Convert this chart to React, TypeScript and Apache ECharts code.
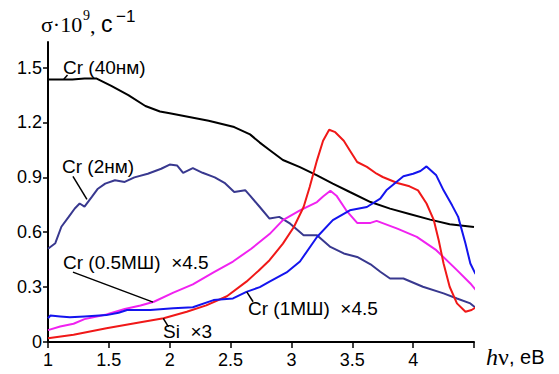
import React, { useEffect, useRef } from "react";
import * as echarts from "echarts";

// Cr (40нм)
const cr40nm: number[][] = [
  [1.0, 1.435], [1.2, 1.435], [1.3, 1.44], [1.4, 1.44], [1.52, 1.4], [1.66, 1.35],
  [1.8, 1.29], [1.92, 1.26], [2.0, 1.25], [2.16, 1.23], [2.32, 1.21], [2.53, 1.175],
  [2.66, 1.135], [2.74, 1.09], [2.82, 1.05], [2.93, 0.995], [3.07, 0.956], [3.21, 0.911],
  [3.34, 0.866], [3.48, 0.82], [3.65, 0.765], [3.81, 0.729], [3.97, 0.7], [4.14, 0.669],
  [4.3, 0.644], [4.5, 0.629],
];
// Cr (2нм)
const cr2nm: number[][] = [
  [1.0, 0.51], [1.06, 0.54], [1.11, 0.63], [1.17, 0.684], [1.22, 0.73], [1.26, 0.757],
  [1.3, 0.74], [1.36, 0.793], [1.41, 0.838], [1.47, 0.866], [1.55, 0.884], [1.63, 0.875],
  [1.71, 0.9], [1.82, 0.92], [1.93, 0.947], [2.0, 0.97], [2.06, 0.965], [2.11, 0.925],
  [2.19, 0.95], [2.27, 0.925], [2.37, 0.9], [2.45, 0.87], [2.53, 0.82], [2.62, 0.83],
  [2.66, 0.8], [2.74, 0.738], [2.82, 0.675], [2.9, 0.684], [2.99, 0.647], [3.1, 0.584],
  [3.21, 0.584], [3.32, 0.52], [3.43, 0.484], [3.54, 0.465], [3.65, 0.425], [3.73, 0.384],
  [3.81, 0.347], [3.92, 0.347], [4.08, 0.302], [4.25, 0.266], [4.36, 0.238], [4.47, 0.211],
  [4.52, 0.184],
];
// Cr (0.5МШ) ×4.5
const cr05ms: number[][] = [
  [1.0, 0.065], [1.1, 0.085], [1.21, 0.1], [1.3, 0.125], [1.48, 0.15], [1.63, 0.18],
  [1.76, 0.2], [1.87, 0.22], [2.03, 0.27], [2.19, 0.315], [2.36, 0.38], [2.52, 0.44],
  [2.67, 0.51], [2.82, 0.59], [2.93, 0.666], [3.07, 0.72], [3.21, 0.765], [3.26, 0.795],
  [3.32, 0.827], [3.37, 0.8], [3.45, 0.72], [3.54, 0.651], [3.65, 0.651], [3.7, 0.662],
  [3.87, 0.62], [4.03, 0.575], [4.19, 0.502], [4.36, 0.393], [4.47, 0.32], [4.55, 0.256],
];
// Cr (1МШ) ×4.5
const cr1ms: number[][] = [
  [1.0, 0.13], [1.02, 0.145], [1.1, 0.14], [1.18, 0.135], [1.3, 0.14], [1.48, 0.147],
  [1.58, 0.16], [1.65, 0.175], [1.84, 0.175], [2.03, 0.184], [2.19, 0.19], [2.36, 0.229],
  [2.52, 0.238], [2.63, 0.274], [2.74, 0.3], [2.82, 0.33], [2.96, 0.38], [3.07, 0.44],
  [3.21, 0.574], [3.34, 0.666], [3.48, 0.72], [3.62, 0.738], [3.73, 0.784], [3.78, 0.829],
  [3.92, 0.906], [4.0, 0.92], [4.06, 0.935], [4.11, 0.96], [4.19, 0.911], [4.25, 0.829],
  [4.32, 0.747], [4.37, 0.684], [4.43, 0.538], [4.47, 0.429], [4.51, 0.375], [4.55, 0.353],
];
// Si ×3
const si3: number[][] = [
  [1.0, 0.02], [1.21, 0.04], [1.48, 0.075], [1.76, 0.108], [1.95, 0.13], [2.14, 0.165],
  [2.3, 0.2], [2.47, 0.25], [2.63, 0.33], [2.73, 0.39], [2.82, 0.447], [2.93, 0.538],
  [3.02, 0.629], [3.1, 0.738], [3.15, 0.847], [3.21, 0.993], [3.26, 1.1], [3.31, 1.16],
  [3.36, 1.147], [3.43, 1.1], [3.48, 1.047], [3.54, 0.984], [3.62, 0.957], [3.7, 0.92],
  [3.75, 0.902], [3.87, 0.869], [3.97, 0.851], [4.04, 0.829], [4.11, 0.757], [4.17, 0.666],
  [4.21, 0.556], [4.25, 0.429], [4.3, 0.302], [4.36, 0.211], [4.43, 0.165], [4.48, 0.175],
  [4.54, 0.2],
];

const yTicks = [0, 0.3, 0.6, 0.9, 1.2, 1.5];
const xTicks = [1, 1.5, 2, 2.5, 3, 3.5, 4, 4.5];
const xLabels = [1, 1.5, 2, 2.5, 3, 3.5, 4];

const labelTexts = ["Cr (40нм)", "Cr (2нм)", "Cr (0.5МШ)  ×4.5", "Cr (1МШ)  ×4.5", "Si  ×3"];
const labelAnchors: number[][] = [[1.123, 1.5], [1.115, 0.96], [1.123, 0.436], [2.643, 0.185], [1.945, 0.06]];
const leaderStarts: number[][] = [[1.16, 1.46], [1.205, 0.906], [1.205, 0.382], [2.685, 0.22], [1.99, 0.083]];
const leaderEnds: number[][] = [[1.13, 1.437], [1.32, 0.78], [1.863, 0.218], [2.633, 0.274], [1.947, 0.129]];

const SANS = "'Liberation Sans', Arial, sans-serif";
const SERIF = "'Liberation Serif', 'Times New Roman', serif";

export default function App() {
  const ref = useRef<HTMLDivElement>(null);
  useEffect(() => {
    if (!ref.current) return;
    const chart = echarts.init(ref.current, undefined, { renderer: "svg" });
    const mk = (name: string, data: number[][], color: string) => ({
      name,
      type: "line",
      data,
      showSymbol: false,
      symbol: "none",
      clip: false,
      lineStyle: { color, width: 2 },
      itemStyle: { color },
    });
    chart.setOption({
      animation: false,
      backgroundColor: "#ffffff",
      grid: { left: 48, right: 85, top: 42, bottom: 32, containLabel: false, outerBoundsMode: "none" },
      xAxis: {
        type: "value",
        min: 1,
        max: 4.5,
        axisLine: { show: true, lineStyle: { color: "#000", width: 2 } },
        axisTick: { show: true, customValues: xTicks, length: 6, lineStyle: { color: "#000", width: 1.5 } },
        axisLabel: {
          customValues: xLabels,
          fontSize: 18,
          fontFamily: SANS,
          color: "#000",
          margin: 9,
          formatter: (v: number) => String(v),
        },
        splitLine: { show: false },
      },
      yAxis: {
        type: "value",
        min: 0,
        max: 1.64,
        axisLine: { show: true, lineStyle: { color: "#000", width: 2 } },
        axisTick: { show: true, customValues: yTicks, length: 5, lineStyle: { color: "#000", width: 1.5 } },
        axisLabel: {
          customValues: yTicks,
          fontSize: 18,
          fontFamily: SANS,
          color: "#000",
          margin: 6,
          formatter: (v: number) => String(v),
        },
        splitLine: { show: false },
      },
      series: [
        mk("Cr (40нм)", cr40nm, "#000000"),
        mk("Cr (2нм)", cr2nm, "#38388f"),
        mk("Cr (0.5МШ)", cr05ms, "#f022f0"),
        mk("Si", si3, "#f01818"),
        mk("Cr (1МШ)", cr1ms, "#1414ee"),
      ],
    });

    const px = (p: number[]) => chart.convertToPixel({ gridIndex: 0 }, p) as number[];
    const graphics: any[] = [];
    labelTexts.forEach((t, i) => {
      const a = px(labelAnchors[i]);
      const s = px(leaderStarts[i]);
      const e = px(leaderEnds[i]);
      graphics.push({
        type: "line",
        shape: { x1: s[0], y1: s[1], x2: e[0], y2: e[1] },
        style: { stroke: "#000", lineWidth: 1.5 },
        z: 10,
      });
      graphics.push({
        type: "text",
        x: a[0],
        y: a[1],
        style: { text: t, font: `19px ${SANS}`, fill: "#000", verticalAlign: "middle", align: "left" },
        z: 11,
      });
    });
    // y axis name: σ·10⁹, с⁻¹
    graphics.push(
      { type: "text", x: 41, y: 24, style: { text: "σ·10", font: `22px ${SERIF}`, fill: "#000", verticalAlign: "middle" } },
      { type: "text", x: 83, y: 15, style: { text: "9", font: `14px ${SERIF}`, fill: "#000", verticalAlign: "middle" } },
      { type: "text", x: 90, y: 25, style: { text: ",", font: `22px ${SERIF}`, fill: "#000", verticalAlign: "middle" } },
      { type: "text", x: 101, y: 24, style: { text: "с", font: `23px ${SANS}`, fill: "#000", verticalAlign: "middle" } },
      { type: "text", x: 116, y: 16, style: { text: "−1", font: `17px ${SANS}`, fill: "#000", verticalAlign: "middle" } },
      // x axis name: hν, eB
      { type: "text", x: 486, y: 357, style: { text: "h", font: `italic 24px ${SERIF}`, fill: "#000", verticalAlign: "middle" } },
      { type: "text", x: 498, y: 357, style: { text: "ν", font: `24px ${SERIF}`, fill: "#000", verticalAlign: "middle" } },
      { type: "text", x: 509, y: 357, style: { text: ", eB", font: `20px ${SANS}`, fill: "#000", verticalAlign: "middle" } }
    );
    chart.setOption({ graphic: graphics });

    return () => chart.dispose();
  }, []);
  return (
    <div
      ref={ref}
      style={{ position: "fixed", left: 0, top: 0, width: 559, height: 374, background: "#fff" }}
    />
  );
}
